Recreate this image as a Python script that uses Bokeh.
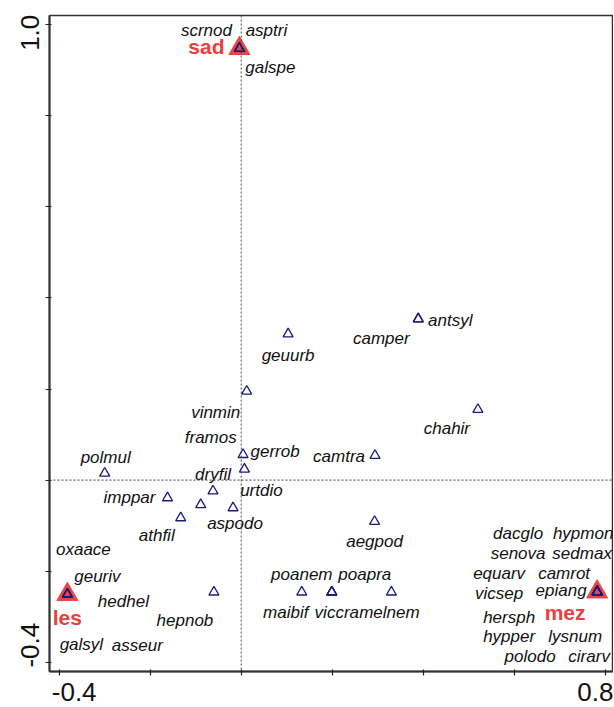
from bokeh.plotting import figure
from bokeh.models import (ColumnDataSource, Span, FixedTicker, Range1d,
                          LinearAxis, CustomJSTickFormatter)
from bokeh.core.properties import value
from bokeh.embed import file_html
from bokeh.resources import INLINE

# ---- data -------------------------------------------------------------
group_names = ["sad", "les", "mez"]
group_x = [-0.004, -0.382, 0.782]
group_y = [0.948, -0.251, -0.2455]

species_names = [
    "scrnod", "asptri", "galspe",
    "oxaace", "geuriv", "hedhel", "galsyl", "asseur",
    "hepnob", "polmul", "imppar", "dryfil", "framos", "aspodo", "athfil",
    "gerrob", "urtdio", "vinmin", "geuurb", "antsyl", "camper", "chahir",
    "camtra", "aegpod", "maibif", "poanem", "viccra", "poapra", "melnem",
    "dacglo", "hypmon", "senova", "sedmax", "equarv", "camrot", "vicsep",
    "epiang", "hersph", "hypper", "lysnum", "polodo", "cirarv",
]
species_x = [
    -0.004, -0.004, -0.004,
    -0.382, -0.382, -0.382, -0.382, -0.382,
    -0.060, -0.300, -0.162, -0.062, -0.089, -0.018, -0.133,
    0.004, 0.007, 0.012, 0.103, 0.389, 0.389, 0.520,
    0.294, 0.293, 0.133, 0.199, 0.199, 0.199, 0.330,
    0.782, 0.782, 0.782, 0.782, 0.782, 0.782, 0.782,
    0.782, 0.782, 0.782, 0.782, 0.782, 0.782,
]
species_y = [
    0.948, 0.948, 0.948,
    -0.251, -0.251, -0.251, -0.251, -0.251,
    -0.246, 0.015, -0.039, -0.024, -0.054, -0.061, -0.083,
    0.056, 0.024, 0.195, 0.321, 0.354, 0.354, 0.155,
    0.054, -0.091, -0.246, -0.246, -0.246, -0.246, -0.246,
    -0.2455, -0.2455, -0.2455, -0.2455, -0.2455, -0.2455, -0.2455,
    -0.2455, -0.2455, -0.2455, -0.2455, -0.2455, -0.2455,
]

x_ticks = [-0.4, -0.2, 0.0, 0.2, 0.4, 0.6, 0.8]
y_ticks = [-0.4, -0.2, 0.0, 0.2, 0.4, 0.6, 0.8, 1.0]
x_tick_labels = ["-0.4", "0.8"]
y_tick_labels = ["-0.4", "1.0"]

# ---- layout (pixel offsets of labels from their point; dy positive = down)
species_dx = [
    -33, 27, 31,
    16, 30, 56, 14, 70,
    -29, 1, -38, 0, 10, 2, -24,
    32, 17, -31, 0, 32, -37, -31,
    -36, 0, -16, -30, 5, 33, -2,
    -79, -14, -79, -15, -98, -33, -98,
    -36, -88, -88, -22, -67, -8,
]
species_dy = [
    -12, -12, 25,
    -39, -12, 13, 56, 57,
    34, -10, 6, -11, -61, 22, 24,
    3, 27, 27, 28, 8, 26, 25,
    7, 26, 26, -12, 26, -12, 26,
    -52, -52, -32, -32, -12, -12, 8,
    5, 32, 51, 51, 71, 71,
]
species_dy = [d - 6 for d in species_dy]
group_dx = [-33, 0, -32]
group_dy = [-2, 23, 21]

X0, X1 = -0.4213, 0.818
Y0, Y1 = -0.4204, 1.0204
FRAME_W, FRAME_H = 564, 656
PX_X = FRAME_W / (X1 - X0)
PX_Y = FRAME_H / (Y1 - Y0)
# end-tick labels sit nudged inward from their ticks (pixels)
x_lab_pos = [x_ticks[0] + 15 / PX_X, x_ticks[-1] - 10 / PX_X]
y_lab_pos = [y_ticks[0] + 17 / PX_Y, y_ticks[-1] - 8 / PX_Y]

FONT = "Liberation Sans"

p = figure(width=613, height=706,
           x_range=Range1d(X0, X1), y_range=Range1d(Y0, Y1),
           output_backend="svg", toolbar_location=None,
           min_border_left=49, min_border_right=0,
           min_border_top=15, min_border_bottom=35)

p.xgrid.visible = False
p.ygrid.visible = False
p.background_fill_color = "white"
p.border_fill_color = "white"
p.outline_line_color = "#333333"
p.outline_line_width = 1.5

blank = CustomJSTickFormatter(code="return ''")
for ax, ticks in ((p.xaxis[0], x_ticks), (p.yaxis[0], y_ticks)):
    ax.ticker = FixedTicker(ticks=ticks)
    ax.formatter = blank
    ax.major_label_text_font_size = "0px"
    ax.major_label_standoff = 0
    ax.minor_tick_line_color = None
    ax.axis_line_color = "#333333"
    ax.axis_line_width = 2
    ax.major_tick_line_color = "#222222"
    ax.major_tick_line_width = 1.2
    ax.major_tick_in = 2
    ax.major_tick_out = 4


def label_axis(pos, labels, standoff, orientation, line_height=1.2):
    ax = LinearAxis(ticker=FixedTicker(ticks=pos),
                    formatter=CustomJSTickFormatter(args=dict(labels=labels),
                                                    code="return labels[index]"))
    ax.axis_line_color = None
    ax.major_tick_line_color = None
    ax.minor_tick_line_color = None
    ax.major_tick_in = 0
    ax.major_tick_out = 0
    ax.major_label_standoff = standoff
    ax.major_label_text_font = FONT
    ax.major_label_text_font_size = "26px"
    ax.major_label_text_line_height = line_height
    ax.major_label_text_color = "#111111"
    ax.major_label_orientation = orientation
    return ax


p.add_layout(label_axis(x_lab_pos, x_tick_labels, 7, "horizontal", 0.9), "below")
p.add_layout(label_axis(y_lab_pos, y_tick_labels, 6, "vertical"), "left")

p.add_layout(Span(location=0, dimension="height", line_color="#444444",
                  line_dash="2 2", line_width=1))
p.add_layout(Span(location=0, dimension="width", line_color="#444444",
                  line_dash="2 2", line_width=1))

gsrc = ColumnDataSource(dict(x=group_x, y=group_y, name=group_names,
                             dx=group_dx, dy=group_dy))
ssrc = ColumnDataSource(dict(x=species_x, y=species_y, name=species_names,
                             dx=species_dx, dy=species_dy))

p.scatter("x", "y", source=gsrc, marker="triangle", size=21,
          fill_color="#ea4444", line_color="#ea4444", line_width=1)
p.scatter("x", "y", source=ssrc, marker="triangle", size=10,
          fill_color=None, line_color="#1a1a80", line_width=1.3)

p.text("x", "y", text="name", x_offset="dx", y_offset="dy", source=ssrc,
       text_font=value(FONT), text_font_style="italic", text_font_size="17px",
       text_align="center", text_baseline="alphabetic", text_color="#111111")
p.text("x", "y", text="name", x_offset="dx", y_offset="dy", source=gsrc,
       text_font=value(FONT), text_font_style="bold", text_font_size="21px",
       text_align="center", text_baseline="alphabetic", text_color="#e8413e")

open("out.html", "w").write(file_html(p, INLINE))
